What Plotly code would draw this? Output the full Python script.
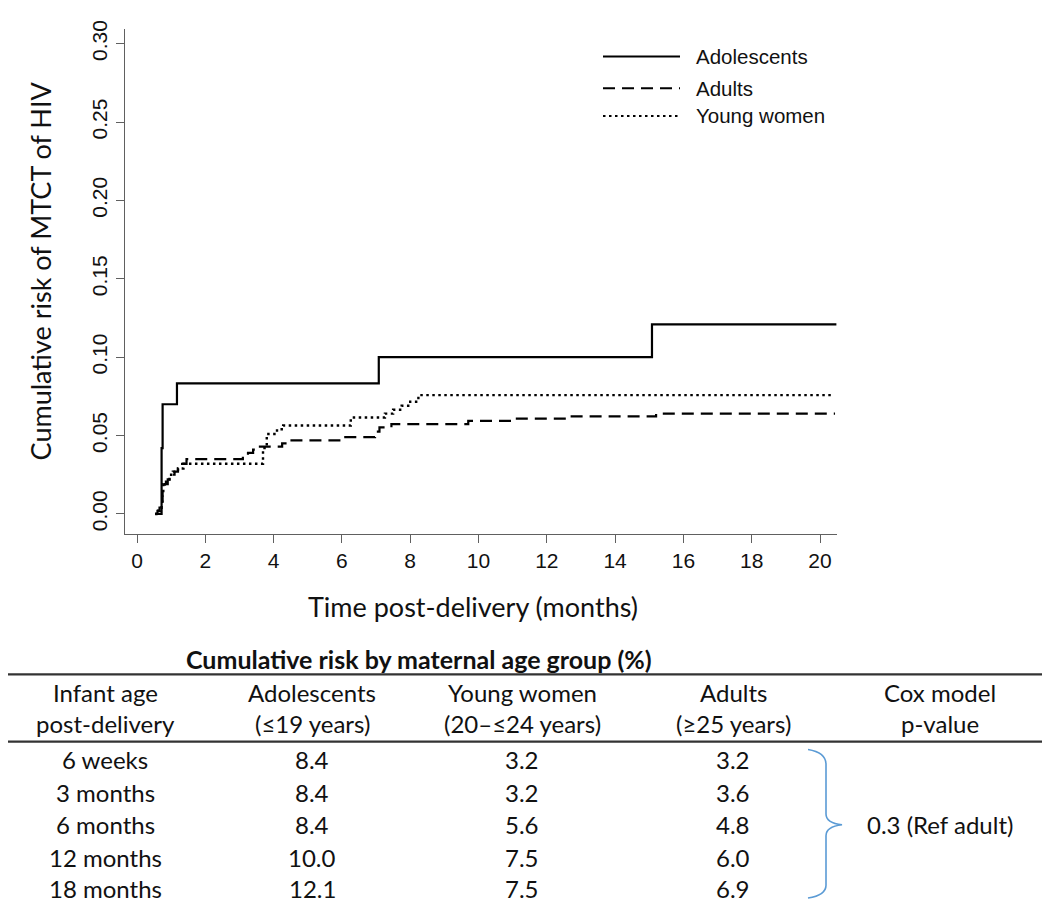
import plotly.graph_objects as go

# The page body has an 8px margin; the figure is sized to fill the rest of the window.
OFF = 8
W, H = 1050 - OFF, 903 - OFF

# ---------------- data ----------------
ado_t = [0.53, 0.72, 0.75, 1.17, 7.08, 15.08, 20.48]
ado_r = [0.0, 0.042, 0.070, 0.0833, 0.100, 0.121, 0.121]

adu_t = [0.53, 0.60, 0.66, 0.72, 0.75, 0.82, 0.90, 1.00, 1.10, 1.20, 1.32, 1.45,
         3.10, 3.25, 3.40, 3.60, 4.25, 4.40, 6.10, 6.97, 7.10, 7.45, 9.70, 11.05,
         12.60, 15.20, 20.44]
adu_r = [0.0, 0.002, 0.004, 0.006, 0.016, 0.019, 0.022, 0.025, 0.027, 0.029, 0.032, 0.035,
         0.037, 0.039, 0.041, 0.043, 0.045, 0.047, 0.049, 0.0525, 0.0552, 0.0573, 0.0594, 0.0608,
         0.0622, 0.064, 0.064]

yw_t = [0.53, 0.62, 0.68, 0.72, 0.74, 0.77, 0.85, 0.95, 1.05, 1.20, 1.36,
        3.69, 3.80, 4.10, 4.28, 6.26, 7.26, 7.50, 7.75, 8.00, 8.24, 20.38]
yw_r = [0.0, 0.002, 0.004, 0.006, 0.012, 0.019, 0.022, 0.025, 0.027, 0.029, 0.032,
        0.042, 0.051, 0.054, 0.0564, 0.0615, 0.064, 0.0665, 0.069, 0.0716, 0.0758, 0.0758]

x_ticks = [0, 2, 4, 6, 8, 10, 12, 14, 16, 18, 20]
y_ticks = [0.00, 0.05, 0.10, 0.15, 0.20, 0.25, 0.30]

legend_names = ["Adolescents", "Adults", "Young women"]

table_title = "Cumulative risk by maternal age group (%)"
col_head1 = ["Infant age", "Adolescents", "Young women", "Adults", "Cox model"]
col_head2 = ["post-delivery", "(≤19 years)", "(20–≤24 years)", "(≥25 years)", "p-value"]
infant_age = ["6 weeks", "3 months", "6 months", "12 months", "18 months"]
tab_ado = ["8.4", "8.4", "8.4", "10.0", "12.1"]
tab_yw = ["3.2", "3.2", "5.6", "7.5", "7.5"]
tab_adu = ["3.2", "3.6", "4.8", "6.0", "6.9"]
cox_p = "0.3 (Ref adult)"

# ---------------- helpers (window pixel -> paper) ----------------
def px(x):
    return (x - OFF) / W

def py(y):
    return 1 - (y - OFF) / H

ARIAL = "Liberation Sans, Arial, sans-serif"
CAL = "Lato, Open Sans, sans-serif"

fig = go.Figure()

fig.add_trace(go.Scatter(x=ado_t, y=ado_r, mode="lines", line_shape="hv",
                         line=dict(color="black", width=2.2, dash="solid"),
                         name=legend_names[0], showlegend=False))
fig.add_trace(go.Scatter(x=adu_t, y=adu_r, mode="lines", line_shape="hv",
                         line=dict(color="black", width=2.2, dash="12px,7px"),
                         name=legend_names[1], showlegend=False))
fig.add_trace(go.Scatter(x=yw_t, y=yw_r, mode="lines", line_shape="hv",
                         line=dict(color="black", width=2.4, dash="2.5px,3.5px"),
                         name=legend_names[2], showlegend=False))

# plot area in window pixels
XL, XR = 125, 837
YT, YB = 20, 530
x0_px, x20_px = 137, 820
ppm = (x20_px - x0_px) / 20.0
xr = [(XL - x0_px) / ppm, (XR - x0_px) / ppm]
y0_px, y30_px = 510, 35
ppu = (y0_px - y30_px) / 0.30
yr = [-(YB - y0_px) / ppu, (y0_px - YT) / ppu]

axis_col = "#606060"
fig.update_layout(
    width=W, height=H, autosize=False,
    margin=dict(l=0, r=0, t=0, b=0),
    paper_bgcolor="white", plot_bgcolor="white",
    showlegend=False,
    xaxis=dict(domain=[px(XL), px(XR)], range=xr, tickvals=x_ticks,
               ticktext=[str(v) for v in x_ticks],
               showline=True, linecolor=axis_col, linewidth=1.3,
               ticks="outside", ticklen=8, tickcolor=axis_col, tickwidth=1.3,
               showgrid=False, zeroline=False,
               tickfont=dict(family=ARIAL, size=21, color="#111")),
    yaxis=dict(domain=[py(YB), py(YT)], range=yr, tickvals=y_ticks,
               ticktext=["%.2f" % v for v in y_ticks], tickangle=-90,
               showline=True, linecolor=axis_col, linewidth=1.3,
               ticks="outside", ticklen=8, tickcolor=axis_col, tickwidth=1.3,
               showgrid=False, zeroline=False,
               tickfont=dict(family=ARIAL, size=21, color="#111")),
)

ann = []
shapes = []

# axis titles
ann.append(dict(x=px(40), y=py(265), xref="paper", yref="paper", text="Cumulative risk of MTCT of HIV",
                textangle=-90, showarrow=False, xanchor="center", yanchor="middle",
                font=dict(family=CAL, size=27, color="#111")))
ann.append(dict(x=px(473), y=py(603), xref="paper", yref="paper", text="Time post-delivery (months)",
                showarrow=False, xanchor="center", yanchor="middle",
                font=dict(family=CAL, size=27, color="#111")))

# legend (drawn manually)
leg_y = [48, 80, 108]
leg_dash = ["solid", "12px,7px", "2.5px,3.5px"]
for name, yy, d in zip(legend_names, leg_y, leg_dash):
    shapes.append(dict(type="line", xref="paper", yref="paper", x0=px(603), x1=px(680),
                       y0=py(yy), y1=py(yy), line=dict(color="black", width=2, dash=d)))
    ann.append(dict(x=px(694), y=py(yy), xref="paper", yref="paper", text=name, showarrow=False,
                    xanchor="left", yanchor="middle", font=dict(family=ARIAL, size=20.5, color="#111")))

# table
TF = 24
ann.append(dict(x=px(419), y=py(657), xref="paper", yref="paper", text="<b>%s</b>" % table_title,
                showarrow=False, xanchor="center", yanchor="middle",
                font=dict(family=CAL, size=25, color="#111")))
for yy in [672, 740]:
    shapes.append(dict(type="line", xref="paper", yref="paper", x0=px(0), x1=1, y0=py(yy), y1=py(yy),
                       line=dict(color="#333", width=2.2)))
col_x = [105, 312, 522, 733, 940]
for cx, h1, h2 in zip(col_x, col_head1, col_head2):
    ann.append(dict(x=px(cx), y=py(690), xref="paper", yref="paper", text=h1, showarrow=False,
                    xanchor="center", yanchor="middle", font=dict(family=CAL, size=TF, color="#111")))
    ann.append(dict(x=px(cx), y=py(722), xref="paper", yref="paper", text=h2, showarrow=False,
                    xanchor="center", yanchor="middle", font=dict(family=CAL, size=TF, color="#111")))
row_y = [758, 791, 824, 857, 888]
for i, ry in enumerate(row_y):
    for cx, val in zip(col_x[:4], [infant_age[i], tab_ado[i], tab_yw[i], tab_adu[i]]):
        ann.append(dict(x=px(cx), y=py(ry), xref="paper", yref="paper", text=val, showarrow=False,
                        xanchor="center", yanchor="middle", font=dict(family=CAL, size=TF, color="#111")))
ann.append(dict(x=px(940), y=py(824), xref="paper", yref="paper", text=cox_p, showarrow=False,
                xanchor="center", yanchor="middle", font=dict(family=CAL, size=TF, color="#111")))

# brace
pts = [(808, 748), (826, 751), (826, 763), (826, 813), (826, 822), (842, 824),
       (826, 826), (826, 835), (826, 885), (826, 895), (808, 898)]
def P(p):
    return "%.5f,%.5f" % (px(p[0]), py(p[1]))
path = ("M " + P(pts[0]) + " Q " + P(pts[1]) + " " + P(pts[2]) +
        " L " + P(pts[3]) + " Q " + P(pts[4]) + " " + P(pts[5]) +
        " Q " + P(pts[6]) + " " + P(pts[7]) +
        " L " + P(pts[8]) + " Q " + P(pts[9]) + " " + P(pts[10]))
shapes.append(dict(type="path", xref="paper", yref="paper", path=path,
                   line=dict(color="#5B9BD5", width=1.6)))

fig.update_layout(annotations=ann, shapes=shapes)

fig.write_html("out.html")
